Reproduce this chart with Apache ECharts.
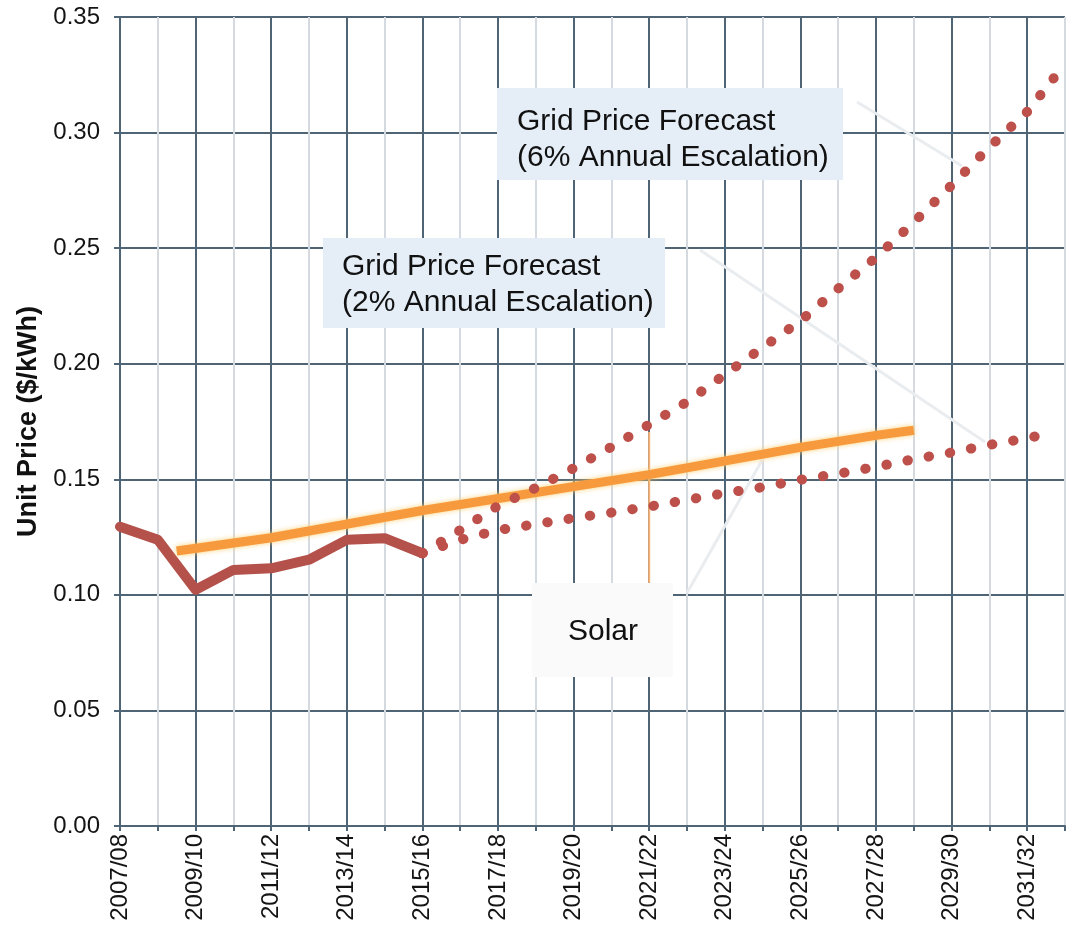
<!DOCTYPE html>
<html>
<head>
<meta charset="utf-8">
<script src="https://cdn.jsdelivr.net/npm/echarts@6/dist/echarts.min.js"></script>
<style>
  html, body { margin: 0; padding: 0; background: #fff; }
  #chart { width: 1074px; height: 930px; }
</style>
</head>
<body>
<div id="chart"></div>
<script>
  // financial years, index 0 = 2007/08
  const fyLabels = ['2007/08', '2008/09', '2009/10', '2010/11', '2011/12', '2012/13', '2013/14',
    '2014/15', '2015/16', '2016/17', '2017/18', '2018/19', '2019/20', '2020/21', '2021/22',
    '2022/23', '2023/24', '2024/25', '2025/26', '2026/27', '2027/28', '2028/29', '2029/30',
    '2030/31', '2031/32', '2032/33'];

  // historical grid price
  const histX = [0, 1, 2, 3, 4, 5, 6, 7, 8];
  const histY = [0.1295, 0.1238, 0.1022, 0.1108, 0.1115, 0.1152, 0.1238, 0.1245, 0.118];

  // forecasts
  const fcX = [8, 9, 10, 11, 12, 13, 14, 15, 16, 17, 18, 19, 20, 21, 22, 23, 24, 24.7];
  const grid2Y = [0.118, 0.1238, 0.128, 0.1306, 0.1332, 0.1356, 0.1382, 0.1411, 0.144, 0.1466,
    0.1498, 0.1524, 0.1554, 0.1587, 0.1616, 0.1649, 0.1678, 0.1702];
  const grid6Y = [0.118, 0.128, 0.1385, 0.1463, 0.1548, 0.164, 0.1737, 0.1835, 0.1953, 0.207,
    0.2185, 0.2325, 0.246, 0.2612, 0.2772, 0.2937, 0.309, 0.3235];

  // solar
  const solarX = [1.5, 4, 8, 14, 18, 20, 21];
  const solarY = [0.119, 0.1247, 0.1365, 0.152, 0.1638, 0.169, 0.1712];

  const dark = '#4f6475';
  const light = '#d4dadf';
  const red = '#bd504a';
  const font = 'Arial, "Liberation Sans", sans-serif';

  const pairs = (xs, ys) => xs.map((x, i) => [x, ys[i]]);

  const dotted = {
    color: red,
    width: 10,
    type: [0.5, 21],
    cap: 'round'
  };

  const box = (x, y, w, h, fill, lines, tx, ty) => ({
    type: 'group',
    z: 20,
    children: [
      { type: 'rect', z: 20, shape: { x: x, y: y, width: w, height: h }, style: { fill: fill } },
      {
        type: 'text', z: 21, x: tx, y: ty,
        style: { text: lines, font: '30px ' + font, fill: '#111', lineHeight: 36, verticalAlign: 'top' }
      }
    ]
  });

  const leader = (x1, y1, x2, y2) => ({
    type: 'line',
    z: 1,
    shape: { x1: x1, y1: y1, x2: x2, y2: y2 },
    style: { stroke: '#eaedf0', lineWidth: 3 }
  });

  const myChart = echarts.init(document.getElementById('chart'));
  myChart.setOption({
    animation: false,
    backgroundColor: '#fff',
    grid: { left: 120, right: 9, top: 17, bottom: 104 },
    xAxis: {
      type: 'value',
      min: 0,
      max: 25,
      interval: 1,
      axisLine: { lineStyle: { color: dark, width: 2 } },
      axisTick: { length: 5, lineStyle: { color: dark, width: 2 } },
      axisLabel: {
        rotate: 90,
        margin: 8,
        fontSize: 24,
        fontFamily: font,
        color: '#141414',
        formatter: v => (v % 2 === 0 ? fyLabels[v] : '')
      },
      splitLine: { show: true, lineStyle: { color: [dark, light], width: 2 } }
    },
    yAxis: {
      type: 'value',
      min: 0,
      max: 0.35,
      interval: 0.05,
      name: 'Unit Price ($/kWh)',
      nameLocation: 'middle',
      nameGap: 77,
      nameTextStyle: { fontSize: 27, fontWeight: 'bold', fontFamily: font, color: '#111' },
      axisLine: { show: true, lineStyle: { color: dark, width: 2 } },
      axisTick: { show: true, length: 6, lineStyle: { color: dark, width: 2 } },
      axisLabel: {
        margin: 20,
        fontSize: 24,
        fontFamily: font,
        color: '#141414',
        formatter: v => v.toFixed(2)
      },
      splitLine: { lineStyle: { color: dark, width: 2 } }
    },
    series: [
      {
        name: 'Solar pointer',
        type: 'line',
        data: [[14, 0.105], [14, 0.1705]],
        symbol: 'none',
        lineStyle: { color: '#f6b277', width: 2 },
        z: 2
      },
      {
        name: 'Grid Price',
        type: 'line',
        data: pairs(histX, histY),
        symbol: 'none',
        lineStyle: { color: '#b4514b', width: 10, join: 'round', cap: 'round' },
        z: 3
      },
      {
        name: 'Solar',
        type: 'line',
        data: pairs(solarX, solarY),
        symbol: 'none',
        lineStyle: {
          color: '#f79a3e',
          width: 9,
          shadowColor: 'rgba(252, 205, 110, 0.95)',
          shadowBlur: 5
        },
        z: 4
      },
      {
        name: 'Grid Price Forecast (2%)',
        type: 'line',
        data: pairs(fcX, grid2Y),
        symbol: 'none',
        lineStyle: dotted,
        z: 5
      },
      {
        name: 'Grid Price Forecast (6%)',
        type: 'line',
        data: pairs(fcX, grid6Y),
        symbol: 'none',
        lineStyle: dotted,
        z: 5
      }
    ],
    graphic: [
      leader(857, 102, 962, 166),
      leader(700, 250, 985, 442),
      leader(687, 593, 765, 455),
      box(497, 88, 346, 92, '#e5eef7', 'Grid Price Forecast\n(6% Annual Escalation)', 517, 104),
      box(323, 238, 342, 90, '#e5eef7', 'Grid Price Forecast\n(2% Annual Escalation)', 342, 249),
      box(532, 583, 141, 94, '#fafafa', 'Solar', 568, 614)
    ]
  });
</script>
</body>
</html>
